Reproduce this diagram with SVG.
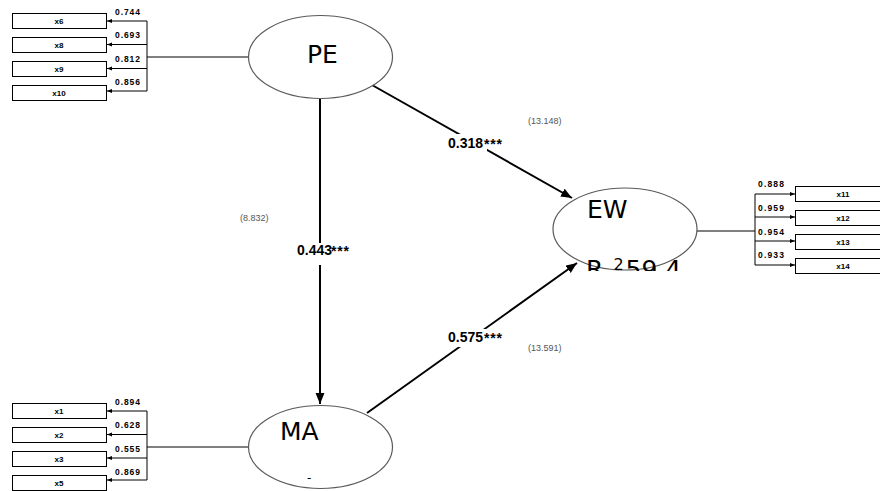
<svg xmlns="http://www.w3.org/2000/svg" width="880" height="491" viewBox="0 0 880 491">
<style>
.bg{fill:#fff}
.lat{fill:#fff;stroke:#5a5a5a;stroke-width:1.2}
.ind{fill:#fff;stroke:#000;stroke-width:1}
.thin{stroke:#000;stroke-width:1;fill:none}
.path{stroke:#000;stroke-width:2;fill:none}
.big{font-family:"DejaVu Sans",sans-serif;font-size:25px;fill:#000}
.ld{font-family:"Liberation Sans",Arial,sans-serif;font-size:8.5px;font-weight:bold;fill:#000}
.bx{font-family:"Liberation Sans",Arial,sans-serif;font-size:8px;font-weight:bold;fill:#000;text-anchor:middle}
.coef{font-family:"Liberation Sans",Arial,sans-serif;font-size:14px;font-weight:bold;fill:#000}
.star{font-family:"Liberation Sans",Arial,sans-serif;font-size:14px;font-weight:bold;fill:#000}
.tv{font-family:"Liberation Sans",Arial,sans-serif;font-size:9px;fill:#555}
</style>
<defs>
<marker id="ah" markerUnits="userSpaceOnUse" markerWidth="12" markerHeight="10" refX="11" refY="4.5" orient="auto"><path d="M0,0 L11,4.5 L0,9 z" fill="#000"/></marker>
<marker id="sa" markerUnits="userSpaceOnUse" markerWidth="6" markerHeight="5" refX="5" refY="2" orient="auto"><path d="M0,0 L5,2 L0,4 z" fill="#000"/></marker>
<clipPath id="ewclip"><rect x="560" y="240" width="140" height="31"/></clipPath>
</defs>
<rect class="bg" x="0" y="0" width="880" height="491"/>

<g id="connectors">
<path class="thin" d="M147,21 V91 M147,57 H248"/>
<path class="thin" d="M147,21 H107" marker-end="url(#sa)"/>
<path class="thin" d="M147,44.5 H107" marker-end="url(#sa)"/>
<path class="thin" d="M147,68.5 H107" marker-end="url(#sa)"/>
<path class="thin" d="M147,91 H107" marker-end="url(#sa)"/>
<path class="thin" d="M147,411 V480 M147,447 H248"/>
<path class="thin" d="M147,411 H107" marker-end="url(#sa)"/>
<path class="thin" d="M147,434.5 H107" marker-end="url(#sa)"/>
<path class="thin" d="M147,458 H107" marker-end="url(#sa)"/>
<path class="thin" d="M147,480 H107" marker-end="url(#sa)"/>
<path class="thin" d="M755,194 V265 M697,231 H755"/>
<path class="thin" d="M755,194 H795" marker-end="url(#sa)"/>
<path class="thin" d="M755,217 H795" marker-end="url(#sa)"/>
<path class="thin" d="M755,241 H795" marker-end="url(#sa)"/>
<path class="thin" d="M755,265 H795" marker-end="url(#sa)"/>
<path class="path" d="M372,85 L572,198" marker-end="url(#ah)"/>
<path class="path" d="M320,99 V404" marker-end="url(#ah)"/>
<path class="path" d="M367,413 L577,263" marker-end="url(#ah)"/>
<rect class="bg" x="447" y="134" width="40" height="17"/>
<rect class="bg" x="295" y="243" width="37" height="22"/>
<rect class="bg" x="447" y="329" width="40" height="18"/>
<text class="coef" x="448" y="148">0.318</text><text class="star" x="484" y="149" textLength="18" lengthAdjust="spacing">***</text>
<text class="coef" x="297" y="255">0.443</text><text class="star" x="331" y="256" textLength="18" lengthAdjust="spacing">***</text>
<text class="coef" x="448" y="342">0.575</text><text class="star" x="484" y="343" textLength="18" lengthAdjust="spacing">***</text>
<text class="tv" x="528" y="124">(13.148)</text>
<text class="tv" x="240" y="221">(8.832)</text>
<text class="tv" x="528" y="351">(13.591)</text>
<text class="ld" x="115" y="15" textLength="25">0.744</text>
<text class="ld" x="115" y="38" textLength="25">0.693</text>
<text class="ld" x="115" y="62" textLength="25">0.812</text>
<text class="ld" x="115" y="85" textLength="25">0.856</text>
<text class="ld" x="115" y="405" textLength="25">0.894</text>
<text class="ld" x="115" y="428" textLength="25">0.628</text>
<text class="ld" x="115" y="452" textLength="25">0.555</text>
<text class="ld" x="115" y="475" textLength="25">0.869</text>
<text class="ld" x="758" y="187" textLength="26">0.888</text>
<text class="ld" x="758" y="211" textLength="26">0.959</text>
<text class="ld" x="758" y="235" textLength="26">0.954</text>
<text class="ld" x="758" y="258" textLength="26">0.933</text>
</g>

<g id="PE">
<ellipse class="lat" cx="320.5" cy="57" rx="72" ry="41.5"/>
<text class="big" x="307" y="63">PE</text>
</g>
<g id="MA">
<ellipse class="lat" cx="320.5" cy="447" rx="72" ry="41.5"/>
<text class="big" x="280" y="440">MA</text>
<text x="307" y="482" font-family="DejaVu Sans,sans-serif" font-size="12" fill="#000">-</text>
</g>
<g id="EW">
<ellipse class="lat" cx="625" cy="229" rx="72" ry="41"/>
<text class="big" x="587" y="218">EW</text>
<text class="big" x="586" y="278" clip-path="url(#ewclip)">R<tspan font-size="16" dx="10" dy="-8">2</tspan><tspan dx="2" dy="8">59.4</tspan></text>
</g>

<g id="x6"><rect class="ind" x="12.5" y="13.5" width="94" height="15"/><text class="bx" x="59" y="24">x6</text></g>
<g id="x8"><rect class="ind" x="12.5" y="37.5" width="94" height="15"/><text class="bx" x="59" y="48">x8</text></g>
<g id="x9"><rect class="ind" x="12.5" y="61.5" width="94" height="15"/><text class="bx" x="59" y="72">x9</text></g>
<g id="x10"><rect class="ind" x="12.5" y="85.5" width="94" height="15"/><text class="bx" x="59" y="96">x10</text></g>
<g id="x1"><rect class="ind" x="12.5" y="403.5" width="94" height="15"/><text class="bx" x="59" y="414">x1</text></g>
<g id="x2"><rect class="ind" x="12.5" y="427.5" width="94" height="15"/><text class="bx" x="59" y="438">x2</text></g>
<g id="x3"><rect class="ind" x="12.5" y="451.5" width="94" height="15"/><text class="bx" x="59" y="462">x3</text></g>
<g id="x5"><rect class="ind" x="12.5" y="475.5" width="94" height="15"/><text class="bx" x="59" y="486">x5</text></g>
<g id="x11"><rect class="ind" x="795.5" y="186.5" width="94" height="15"/><text class="bx" x="843" y="197">x11</text></g>
<g id="x12"><rect class="ind" x="795.5" y="210.5" width="94" height="15"/><text class="bx" x="843" y="221">x12</text></g>
<g id="x13"><rect class="ind" x="795.5" y="234.5" width="94" height="15"/><text class="bx" x="843" y="245">x13</text></g>
<g id="x14"><rect class="ind" x="795.5" y="258.5" width="94" height="15"/><text class="bx" x="843" y="269">x14</text></g>
</svg>
